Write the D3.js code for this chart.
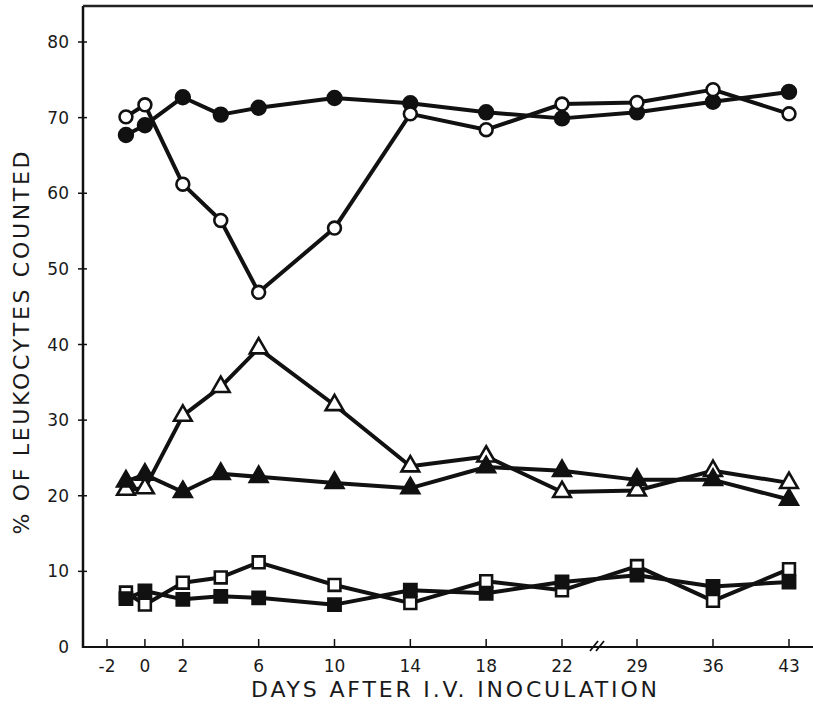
<!DOCTYPE html>
<html>
<head>
<meta charset="utf-8">
<script src="https://cdn.jsdelivr.net/npm/d3@7"></script>
<style>
  html, body { margin: 0; padding: 0; background: #fff; }
  svg { display: block; }
  text { font-family: "DejaVu Sans", "Liberation Sans", sans-serif; fill: #1a1a1a; }
</style>
</head>
<body>
<div id="chart"></div>
<script>
(function () {
    "use strict";

    // ---- data ----
    const days = [-1, 0, 2, 4, 6, 10, 14, 18, 22, 29, 36, 43];
    const filledCircle   = [67.7, 69.0, 72.7, 70.4, 71.3, 72.6, 71.9, 70.7, 69.9, 70.7, 72.1, 73.4];
    const openCircle     = [70.1, 71.7, 61.2, 56.4, 46.9, 55.4, 70.5, 68.4, 71.8, 72.0, 73.7, 70.5];
    const openTriangle   = [20.8, 21.0, 30.6, 34.4, 39.5, 32.0, 23.9, 25.2, 20.5, 20.7, 23.3, 21.7];
    const filledTriangle = [21.9, 22.8, 20.5, 22.9, 22.5, 21.7, 21.0, 23.8, 23.3, 22.1, 22.1, 19.5];
    const openSquare     = [7.2, 5.6, 8.5, 9.2, 11.2, 8.2, 5.8, 8.7, 7.5, 10.7, 6.1, 10.3];
    const filledSquare   = [6.4, 7.4, 6.3, 6.7, 6.5, 5.6, 7.5, 7.1, 8.6, 9.5, 8.0, 8.6];

    const xTicks = [-2, 0, 2, 6, 10, 14, 18, 22, 29, 36, 43];
    const yTicks = [0, 10, 20, 30, 40, 50, 60, 70, 80];

    const WIDTH = 813;
    const HEIGHT = 706;
    const LEFT = 83, TOP = 6, BOTTOM = 647, RIGHT = 813;

    const svg = d3.select("#chart").append("svg")
        .attr("width", WIDTH)
        .attr("height", HEIGHT);

    // broken axis: 19 px/day up to 22, compressed after the break
    const x = d3.scaleLinear()
        .domain([-2, 22, 29, 43])
        .range([107, 562, 637, 789]);

    const y = d3.scaleLinear()
        .domain([0, 80])
        .range([BOTTOM, 42]);

    /* frame */
    svg.append("line")
        .attr("x1", LEFT).attr("x2", LEFT)
        .attr("y1", TOP).attr("y2", BOTTOM + 1)
        .attr("stroke", "#111").attr("stroke-width", 2.5);
    svg.append("line")
        .attr("x1", LEFT).attr("x2", RIGHT)
        .attr("y1", TOP).attr("y2", TOP)
        .attr("stroke", "#222").attr("stroke-width", 2.5);
    svg.append("line")
        .attr("x1", LEFT).attr("x2", RIGHT)
        .attr("y1", BOTTOM).attr("y2", BOTTOM)
        .attr("stroke", "#111").attr("stroke-width", 2);

    /* x ticks + labels */
    const gx = svg.append("g");
    gx.selectAll("line").data(xTicks).enter().append("line")
        .attr("x1", d => x(d)).attr("x2", d => x(d))
        .attr("y1", BOTTOM).attr("y2", BOTTOM - 8)
        .attr("stroke", "#111").attr("stroke-width", 1.5);
    gx.selectAll("text").data(xTicks).enter().append("text")
        .attr("x", d => x(d))
        .attr("y", BOTTOM + 25)
        .attr("text-anchor", "middle")
        .attr("font-size", 17)
        .attr("fill", "#333")
        .text(d => d);

    /* axis break // */
    [594, 600].forEach(function (bx) {
        svg.append("line")
            .attr("x1", bx - 4).attr("y1", BOTTOM + 4)
            .attr("x2", bx + 4).attr("y2", BOTTOM - 6)
            .attr("stroke", "#111").attr("stroke-width", 1.8);
    });

    /* y ticks + labels */
    const gy = svg.append("g");
    gy.selectAll("line").data(yTicks.filter(d => d > 0)).enter().append("line")
        .attr("x1", LEFT - 5).attr("x2", LEFT + 4)
        .attr("y1", d => y(d)).attr("y2", d => y(d))
        .attr("stroke", "#111").attr("stroke-width", 1.5);
    gy.selectAll("text").data(yTicks).enter().append("text")
        .attr("x", 69)
        .attr("y", d => y(d))
        .attr("dy", "0.36em")
        .attr("text-anchor", "end")
        .attr("font-size", 17)
        .attr("fill", "#333")
        .text(d => d);

    /* titles */
    svg.append("text")
        .attr("x", 454).attr("y", 697)
        .attr("text-anchor", "middle")
        .attr("font-size", 22)
        .attr("textLength", 406)
        .attr("lengthAdjust", "spacing")
        .text("DAYS  AFTER  I.V.  INOCULATION");
    svg.append("text")
        .attr("transform", "translate(29,343) rotate(-90)")
        .attr("text-anchor", "middle")
        .attr("font-size", 22)
        .attr("textLength", 383)
        .attr("lengthAdjust", "spacing")
        .text("%  OF  LEUKOCYTES  COUNTED");

    /* series */
    const series = [
        { values: filledCircle,   shape: d3.symbolCircle,   size: 150, filled: true },
        { values: openCircle,     shape: d3.symbolCircle,   size: 130, filled: false },
        { values: openTriangle,   shape: d3.symbolTriangle, size: 135, filled: false },
        { values: filledTriangle, shape: d3.symbolTriangle, size: 135, filled: true },
        { values: openSquare,     shape: d3.symbolSquare,   size: 140, filled: false },
        { values: filledSquare,   shape: d3.symbolSquare,   size: 150, filled: true }
    ];

    const line = d3.line()
        .x(d => x(d.day))
        .y(d => y(d.v));

    const gLines = svg.append("g");
    const gMarks = svg.append("g");

    series.forEach(function (s) {
        const pts = days.map((d, i) => ({ day: d, v: s.values[i] }));
        gLines.append("path")
            .datum(pts)
            .attr("d", line)
            .attr("fill", "none")
            .attr("stroke", "#111")
            .attr("stroke-width", 4)
            .attr("stroke-linejoin", "round");
        gMarks.selectAll(null).data(pts).enter().append("path")
            .attr("transform", d => "translate(" + x(d.day) + "," + y(d.v) + ")")
            .attr("d", d3.symbol().type(s.shape).size(s.size))
            .attr("fill", s.filled ? "#111" : "#fff")
            .attr("stroke", "#111")
            .attr("stroke-width", 2.6);
    });
})();
</script>
</body>
</html>
